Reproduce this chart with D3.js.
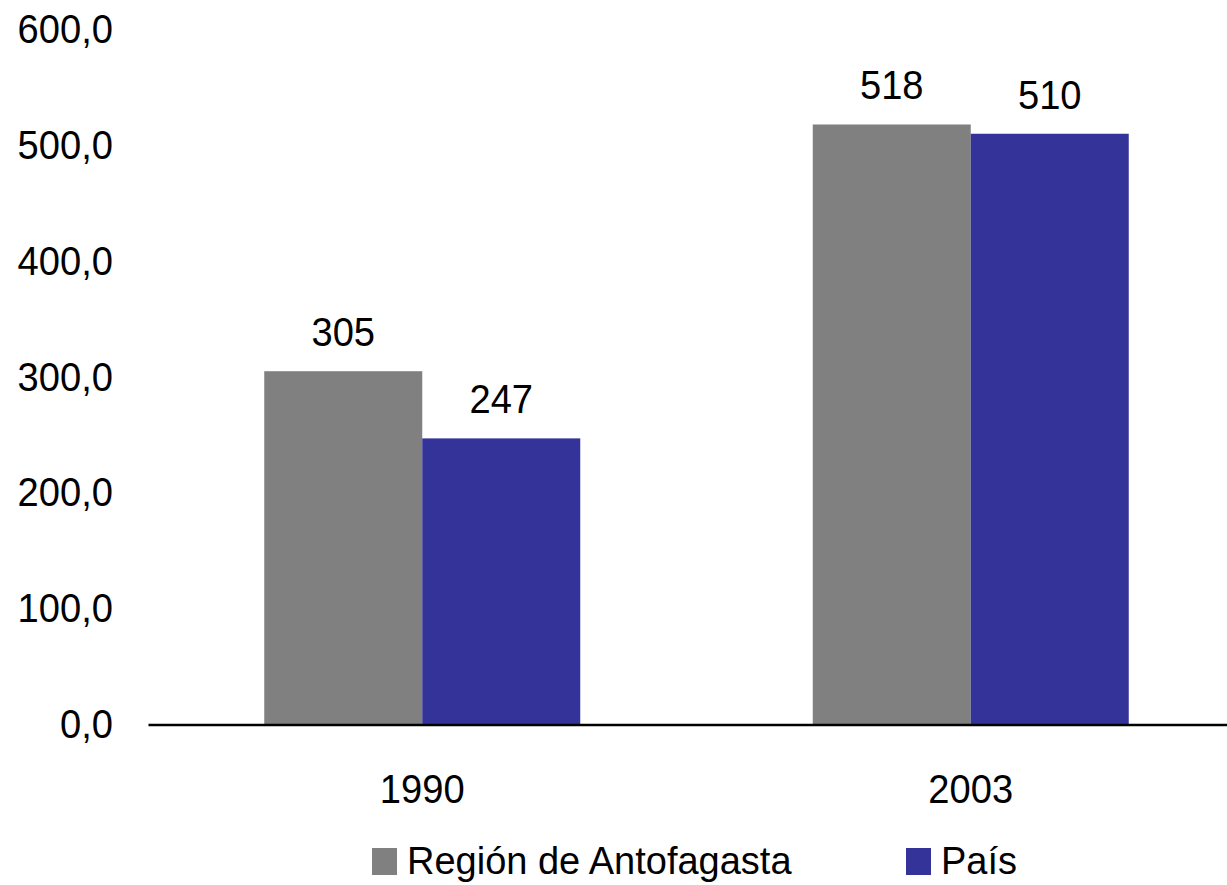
<!DOCTYPE html>
<html>
<head>
<meta charset="utf-8">
<script src="https://cdn.jsdelivr.net/npm/d3@7"></script>
<style>
  html, body { margin: 0; padding: 0; background: #fff; }
  svg { display: block; }
  text { font-family: "Liberation Sans", Arial, sans-serif; fill: #000; }
</style>
</head>
<body>
<svg id="chart" width="1227" height="885"></svg>
<script>
// ---- data ----
const categories = ["1990", "2003"];
const seriesNames = ["Región de Antofagasta", "País"];
const seriesRegion = [305, 518];
const seriesPais = [247, 510];
const yTicks = [0, 100, 200, 300, 400, 500, 600];
const seriesColors = ["#808080", "#333399"];

// ---- layout ----
const svg = d3.select("#chart");
const sx = 0.93;           // slight horizontal condensing of numeric text
const numSize = "41px";
const y0 = 724.5;
const y = d3.scaleLinear().domain([0, 600]).range([y0, 29.5]);
const x0 = d3.scaleBand().domain(categories).range([148, 1245]).padding(0);
const groupW = 316;
const x1 = d3.scaleBand().domain(seriesNames)
  .range([(x0.bandwidth() - groupW) / 2, (x0.bandwidth() + groupW) / 2]).padding(0);

const values = [seriesRegion, seriesPais];
const rows = [];
categories.forEach((c, i) => {
  seriesNames.forEach((s, j) => rows.push({ cat: c, series: s, idx: j, value: values[j][i] }));
});

// bars
svg.append("g").selectAll("rect").data(rows).join("rect")
  .attr("x", d => x0(d.cat) + x1(d.series))
  .attr("width", x1.bandwidth())
  .attr("y", d => y(d.value))
  .attr("height", d => y0 - y(d.value))
  .attr("fill", d => seriesColors[d.idx]);

// value labels
svg.append("g").selectAll("text").data(rows).join("text")
  .attr("transform", d => `translate(${x0(d.cat) + x1(d.series) + x1.bandwidth() / 2},${y(d.value) - 25}) scale(${sx},1)`)
  .attr("text-anchor", "middle")
  .style("font-size", numSize)
  .text(d => d3.format("d")(d.value));

// y axis (labels only)
const fmt = v => d3.format(".1f")(v).replace(".", ",");
const yAxis = svg.append("g").attr("transform", "translate(148,0)")
  .call(d3.axisLeft(y).tickValues(yTicks).tickFormat(fmt).tickSize(0).tickPadding(35));
yAxis.select(".domain").remove();
yAxis.selectAll("text")
  .style("font-size", numSize).style("font-family", "Liberation Sans, Arial, sans-serif").attr("fill", "#000")
  .attr("x", -35 / sx).attr("transform", `scale(${sx},1)`);

// x axis
const xAxis = svg.append("g").attr("transform", `translate(0,${y0})`)
  .call(d3.axisBottom(x0).tickSize(0).tickSizeOuter(0).tickPadding(49));
xAxis.select(".domain").attr("stroke", "#000").attr("stroke-width", 2.5);
xAxis.selectAll("text")
  .style("font-size", numSize).style("font-family", "Liberation Sans, Arial, sans-serif").attr("fill", "#000")
  .attr("transform", `scale(${sx},1)`);

// legend
const legendX = [372, 906];
const lg = svg.append("g").selectAll("g").data(seriesNames).join("g")
  .attr("transform", (d, i) => `translate(${legendX[i]},848)`);
lg.append("rect").attr("width", 25).attr("height", 27).attr("fill", (d, i) => seriesColors[i]);
lg.append("text").attr("x", 35).attr("y", 26).style("font-size", "38px").text(d => d);
</script>
</body>
</html>
